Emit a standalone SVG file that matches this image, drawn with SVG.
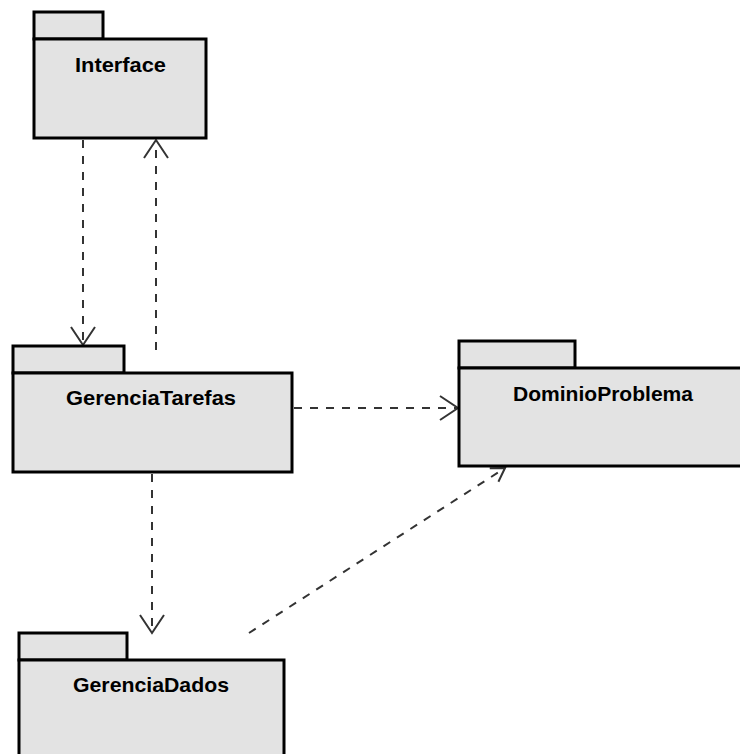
<svg xmlns="http://www.w3.org/2000/svg" width="740" height="754" viewBox="0 0 740 754">
  <style>
    .pkg { fill: #e3e3e3; stroke: #000; stroke-width: 3; }
    .name { font-family: "Liberation Sans", Arial, sans-serif; font-weight: bold; font-size: 21px; fill: #000; text-anchor: middle; }
    .dep { fill: none; stroke: #333; stroke-width: 2; stroke-dasharray: 8 8; }
  </style>
  <defs>
    <marker id="open" markerUnits="userSpaceOnUse" markerWidth="40" markerHeight="40" refX="0" refY="0" viewBox="-20 -20 40 40" orient="auto">
      <path d="M -18 -12 L 0 0 L -18 12" fill="none" stroke="#333" stroke-width="2"/>
    </marker>
    <marker id="openSmall" markerUnits="userSpaceOnUse" markerWidth="40" markerHeight="40" refX="0" refY="0" viewBox="-20 -20 40 40" orient="auto">
      <path d="M -13 -8 L 0 0 L -13 8" fill="none" stroke="#333" stroke-width="2"/>
    </marker>
  </defs>

  <rect width="740" height="754" fill="#fff"/>

  <g id="connectors">
    <!-- Interface -> GerenciaTarefas -->
    <line class="dep" x1="83" y1="140" x2="83" y2="345" marker-end="url(#open)"/>
    <!-- GerenciaTarefas -> Interface -->
    <line class="dep" x1="156" y1="350" x2="156" y2="140" marker-end="url(#open)"/>
    <!-- GerenciaTarefas -> DominioProblema -->
    <line class="dep" x1="294" y1="408" x2="458" y2="408" marker-end="url(#open)"/>
    <!-- GerenciaTarefas -> GerenciaDados -->
    <line class="dep" x1="152" y1="474" x2="152" y2="633" marker-end="url(#open)"/>
    <!-- GerenciaDados -> DominioProblema -->
    <line class="dep" x1="249" y1="633" x2="505" y2="468" marker-end="url(#openSmall)"/>
  </g>

  <g id="Interface">
    <rect class="pkg" x="34" y="12" width="69" height="27"/>
    <rect class="pkg" x="34" y="39" width="172" height="99"/>
    <text class="name" x="120.5" y="72" textLength="91" lengthAdjust="spacingAndGlyphs">Interface</text>
  </g>

  <g id="GerenciaTarefas">
    <rect class="pkg" x="13" y="346" width="111" height="27"/>
    <rect class="pkg" x="13" y="373" width="279" height="99"/>
    <text class="name" x="151" y="404.5" textLength="170" lengthAdjust="spacingAndGlyphs">GerenciaTarefas</text>
  </g>

  <g id="DominioProblema">
    <rect class="pkg" x="459" y="341" width="116" height="27"/>
    <rect class="pkg" x="459" y="368" width="290" height="98"/>
    <text class="name" x="603" y="400.5" textLength="180" lengthAdjust="spacingAndGlyphs">DominioProblema</text>
  </g>

  <g id="GerenciaDados">
    <rect class="pkg" x="19" y="633" width="108" height="27"/>
    <rect class="pkg" x="19" y="660" width="265" height="110"/>
    <text class="name" x="151" y="692" textLength="156" lengthAdjust="spacingAndGlyphs">GerenciaDados</text>
  </g>
</svg>
